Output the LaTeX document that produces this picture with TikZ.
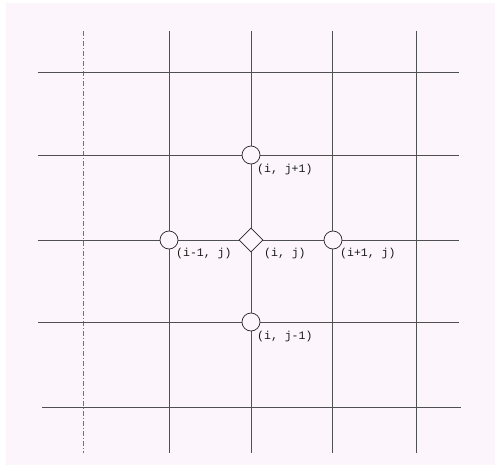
\documentclass[tikz,border=0pt]{standalone}
\usepackage{fontspec}
\setmonofont{Liberation Mono}
\usetikzlibrary{shapes.geometric}
\definecolor{bgtint}{HTML}{FCF6FC}
\definecolor{gridc}{HTML}{505050}
\begin{document}
\begin{tikzpicture}[x=1pt,y=-1pt,
  gridline/.style={draw=gridc,line width=0.8pt},
  faintline/.style={draw=gridc!80,line width=0.7pt,dash pattern=on 5pt off 2pt on 1pt off 2pt},
  pt/.style={circle,draw=black!85,fill=bgtint,line width=0.7pt,minimum size=18pt,inner sep=0pt},
  ctr/.style={diamond,draw=black!85,fill=bgtint,line width=0.7pt,minimum size=24pt,inner sep=0pt},
  lbl/.style={font=\ttfamily\fontsize{11.5}{13}\selectfont,inner sep=0pt,anchor=west,text=black!90}]
\useasboundingbox (0,0) rectangle (496,466);
\fill[white] (0,0) rectangle (496,466);
\fill[bgtint] (6,3) rectangle (495,465);
% vertical grid lines
\draw[faintline] (83,31) -- (83,453);
\foreach \x in {169,251,332,416} \draw[gridline] (\x,31) -- (\x,453);
% horizontal grid lines
\foreach \y in {72,155,240,322} \draw[gridline] (38,\y) -- (459,\y);
\draw[gridline] (42,407) -- (461,407);
% nodes
\node[pt] (n) at (251,155) {};
\node[pt] (w) at (169,240) {};
\node[pt] (e) at (333,240) {};
\node[pt] (s) at (251,322) {};
\node[ctr] (c) at (251,240) {};
% labels
\node[lbl] (ln) at (257,170) {(i, j+1)};
\node[lbl] (lw) at (176,254) {(i-1, j)};
\node[lbl] (lc) at (264,254) {(i, j)};
\node[lbl] (le) at (340,254) {(i+1, j)};
\node[lbl] (ls) at (257,337) {(i, j-1)};
\end{tikzpicture}
\end{document}
